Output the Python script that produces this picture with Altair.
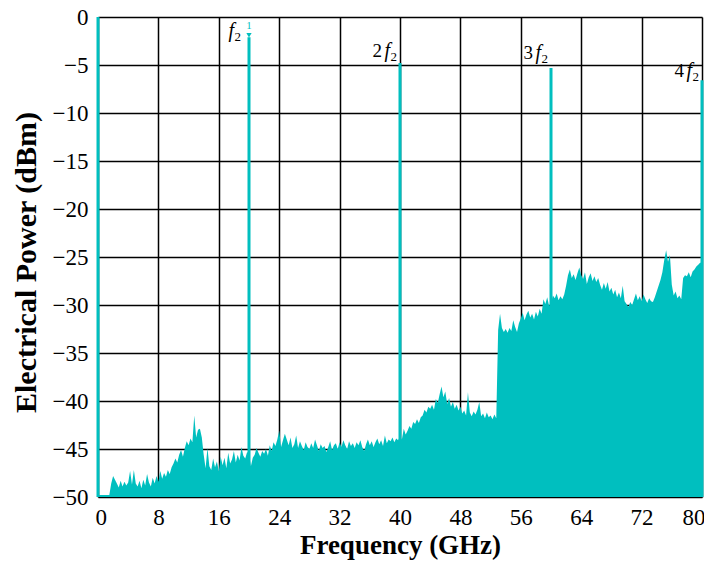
import altair as alt
import pandas as pd

noise_dbm = [
    -49.8, -49.8, -49.8, -49.8, -49.8, -49.8, -49.8, -48.6,   # 0-2
    -47.8, -48.2, -48.6, -49.0, -48.3, -48.9, -48.4, -48.8,   # 2-4
    -48.5, -47.3, -48.7, -47.2, -48.6, -48.9, -48.3, -49.1,   # 4-6
    -48.2, -48.8, -47.6, -48.5, -48.9, -48.0, -48.6, -47.8,   # 6-8
    -48.4, -47.3, -48.1, -47.5, -47.9, -47.2, -47.6, -46.9,   # 8-10
    -46.5, -46.0, -46.4, -45.6, -45.1, -45.8, -44.9, -44.2,   # 10-12
    -44.6, -43.9, -44.3, -41.5, -43.8, -43.0, -42.9, -43.8,   # 12-14
    -45.6, -47.0, -44.9, -46.8, -47.2, -46.0, -46.9, -46.3,   # 14-16
    -47.3, -45.8, -46.7, -45.9, -47.0, -45.4, -46.5, -46.1,   # 16-18
    -45.2, -46.4, -45.6, -46.2, -44.8, -45.7, -46.0, -45.3,   # 18-20
    -45.5, -46.8, -45.9, -45.6, -44.9, -45.4, -45.8, -45.2,   # 20-22
    -45.5, -45.0, -45.7, -44.6, -45.2, -44.3, -44.7, -44.0,   # 22-24
    -43.1, -44.8, -44.1, -43.4, -44.0, -44.6, -43.8, -44.9,   # 24-26
    -44.5, -43.6, -44.9, -44.2, -44.7, -45.1, -44.3, -44.8,   # 26-28
    -45.0, -44.4, -44.9, -44.0, -44.6, -45.2, -44.5, -44.9,   # 28-30
    -44.7, -45.3, -44.8, -44.2, -45.1, -44.6, -44.4, -45.0,   # 30-32
    -44.3, -44.8, -44.1, -44.6, -45.0, -44.2, -44.7, -44.4,   # 32-34
    -44.9, -44.3, -44.6, -44.1, -44.8, -45.2, -44.5, -44.0,   # 34-36
    -44.6, -44.2, -44.8, -44.3, -43.9, -44.5, -44.1, -44.7,   # 36-38
    -43.6, -44.4, -44.0, -44.2, -43.8, -44.3, -43.9, -44.1,   # 38-40
    -43.7, -44.0, -42.9, -43.5, -43.1, -42.6, -42.9, -42.2,   # 40-42
    -42.4, -41.9, -42.3, -41.7, -41.5, -40.9, -41.2, -40.6,   # 42-44
    -40.8, -40.4, -40.9, -39.8, -40.2, -39.3, -38.5, -39.6,   # 44-46
    -39.0, -40.3, -39.7, -40.6, -40.1, -40.8, -40.4, -41.0,   # 46-48
    -40.6, -41.3, -41.0, -41.5, -39.1, -41.2, -41.6, -41.1,   # 48-50
    -41.4, -40.9, -40.1, -41.6, -41.3, -41.8, -41.2, -41.7,   # 50-52
    -41.5, -41.9, -41.4, -41.8, -32.6, -30.9, -32.4, -32.8,   # 52-54
    -32.5, -32.9, -32.4, -32.7, -31.6, -32.3, -32.8, -31.9,   # 54-56
    -31.4, -30.8, -31.6, -31.0, -30.6, -31.3, -30.9, -31.5,   # 56-58
    -30.7, -31.2, -30.4, -30.9, -29.4, -29.9, -29.2, -30.1,   # 58-60
    -29.8, -29.0, -29.3, -28.8, -29.5, -29.1, -29.4, -28.9,   # 60-62
    -28.0, -26.9, -26.3, -27.2, -26.8, -27.4, -26.7, -26.1,   # 62-64
    -26.9, -27.3, -26.6, -27.8, -27.1, -26.7, -27.5, -27.0,   # 64-66
    -27.6, -27.2, -27.9, -28.4, -27.7, -28.3, -27.6, -28.6,   # 66-68
    -28.2, -28.9, -28.4, -29.2, -28.7, -29.3, -28.0, -29.6,   # 68-70
    -29.9, -30.2, -29.7, -30.0, -29.4, -28.8, -29.5, -29.1,   # 70-72
    -29.6, -28.9, -29.4, -29.8, -29.3, -29.6, -29.7, -29.2,   # 72-74
    -28.6, -28.0, -27.4, -26.6, -25.3, -24.3, -25.5, -24.8,   # 74-76
    -27.9, -29.0, -28.6, -29.3, -29.0, -29.4, -27.2, -26.9,   # 76-78
    -27.0, -26.6, -27.1, -26.5, -26.3, -26.0, -25.8, -25.6,   # 78-80
    -25.6,
]
noise_freq = [i * 0.25 for i in range(len(noise_dbm))]

# Harmonic peaks
peak_freq = [0, 20, 40, 60, 80]
peak_dbm = [0.0, -2.1, -4.8, -5.3, -6.6]

# Harmonic labels
lab_freq = [40, 60, 80]
lab_coef = ["2", "3", "4"]
lab_y = [-4.2, -4.4, -6.25]
f2_freq = [20]
f2_y = [-2.1]

# Marker at f2
marker_freq = [20]
marker_dbm = [-1.9]
marker_text = ["1"]

x_ticks = [0, 8, 16, 24, 32, 40, 48, 56, 64, 72, 80]
y_ticks = [-50, -45, -40, -35, -30, -25, -20, -15, -10, -5, 0]

TEAL = "#00BFBF"
SERIF = "Liberation Serif"

noise_df = pd.DataFrame({"f": noise_freq, "p": noise_dbm})
peak_df = pd.DataFrame({"f": peak_freq, "p": peak_dbm})
lab_df = pd.DataFrame({"f": lab_freq, "c": lab_coef, "y": lab_y})
f2_df = pd.DataFrame({"f": f2_freq, "y": f2_y})
mk_df = pd.DataFrame({"f": marker_freq, "p": marker_dbm, "t": marker_text})

xs = alt.Scale(domain=[0, 80], nice=False, zero=False)
ys = alt.Scale(domain=[-50, 0], nice=False, zero=False)

x_axis = alt.Axis(
    values=x_ticks, title="Frequency (GHz)", grid=True, gridColor="black",
    gridWidth=1.5, gridOpacity=1, ticks=False, domain=False,
    labelFlush=True, labelFlushOffset=3,
    labelFont=SERIF, labelFontSize=23, labelColor="black", labelPadding=9,
    titleFont=SERIF, titleFontSize=27, titleFontWeight="bold", titleColor="black",
    titlePadding=3,
)
y_axis = alt.Axis(
    values=y_ticks, title="Electrical Power (dBm)", grid=True, gridColor="black",
    gridWidth=1.5, gridOpacity=1, ticks=False, domain=False, labelFlush=False,
    labelFont=SERIF, labelFontSize=23, labelColor="black", labelPadding=10,
    titleFont=SERIF, titleFontSize=30, titleFontWeight="bold", titleColor="black",
    titlePadding=11, titleY=245,
)

area = alt.Chart(noise_df).mark_area(color=TEAL, opacity=1, interpolate="linear").encode(
    x=alt.X("f:Q", scale=xs, axis=x_axis),
    y=alt.Y("p:Q", scale=ys, axis=y_axis),
    y2=alt.datum(-50),
)

rules = alt.Chart(peak_df).mark_rule(color=TEAL, strokeWidth=3).encode(
    x="f:Q", y="p:Q", y2=alt.datum(-50),
)

marker = alt.Chart(mk_df).mark_point(shape="triangle-down", filled=True, color=TEAL, size=28, opacity=1).encode(
    x="f:Q", y="p:Q",
)
marker_lbl = alt.Chart(mk_df).mark_text(color=TEAL, font=SERIF, fontSize=11, dy=-9).encode(
    x="f:Q", y="p:Q", text="t:N",
)

coef = alt.Chart(lab_df).mark_text(align="right", baseline="alphabetic", dx=-18, font=SERIF, fontSize=19, color="black").encode(
    x="f:Q", y="y:Q", text="c:N",
)
f_main = alt.Chart(lab_df).mark_text(align="right", baseline="alphabetic", dx=-10, font=SERIF, fontSize=20, fontStyle="italic", color="black").encode(
    x="f:Q", y="y:Q", text=alt.value("f"),
)
f_sub = alt.Chart(lab_df).mark_text(align="right", baseline="alphabetic", dx=-3, dy=4, font=SERIF, fontSize=13, color="black").encode(
    x="f:Q", y="y:Q", text=alt.value("2"),
)
f2_main = alt.Chart(f2_df).mark_text(align="right", baseline="alphabetic", dx=-15, font=SERIF, fontSize=20, fontStyle="italic", color="black").encode(
    x="f:Q", y="y:Q", text=alt.value("f"),
)
f2_sub = alt.Chart(f2_df).mark_text(align="right", baseline="alphabetic", dx=-8, dy=4, font=SERIF, fontSize=13, color="black").encode(
    x="f:Q", y="y:Q", text=alt.value("2"),
)

chart = alt.layer(area, rules, marker, marker_lbl, coef, f_main, f_sub, f2_main, f2_sub).properties(
    width=604, height=480,
    autosize=alt.AutoSizeParams(type="none"),
    padding={"left": 90, "top": 9, "right": 2, "bottom": 66},
).configure_view(stroke="black", strokeWidth=2).configure(background="white")

chart.save("out.html", embed_options={"renderer": "svg", "actions": False})
